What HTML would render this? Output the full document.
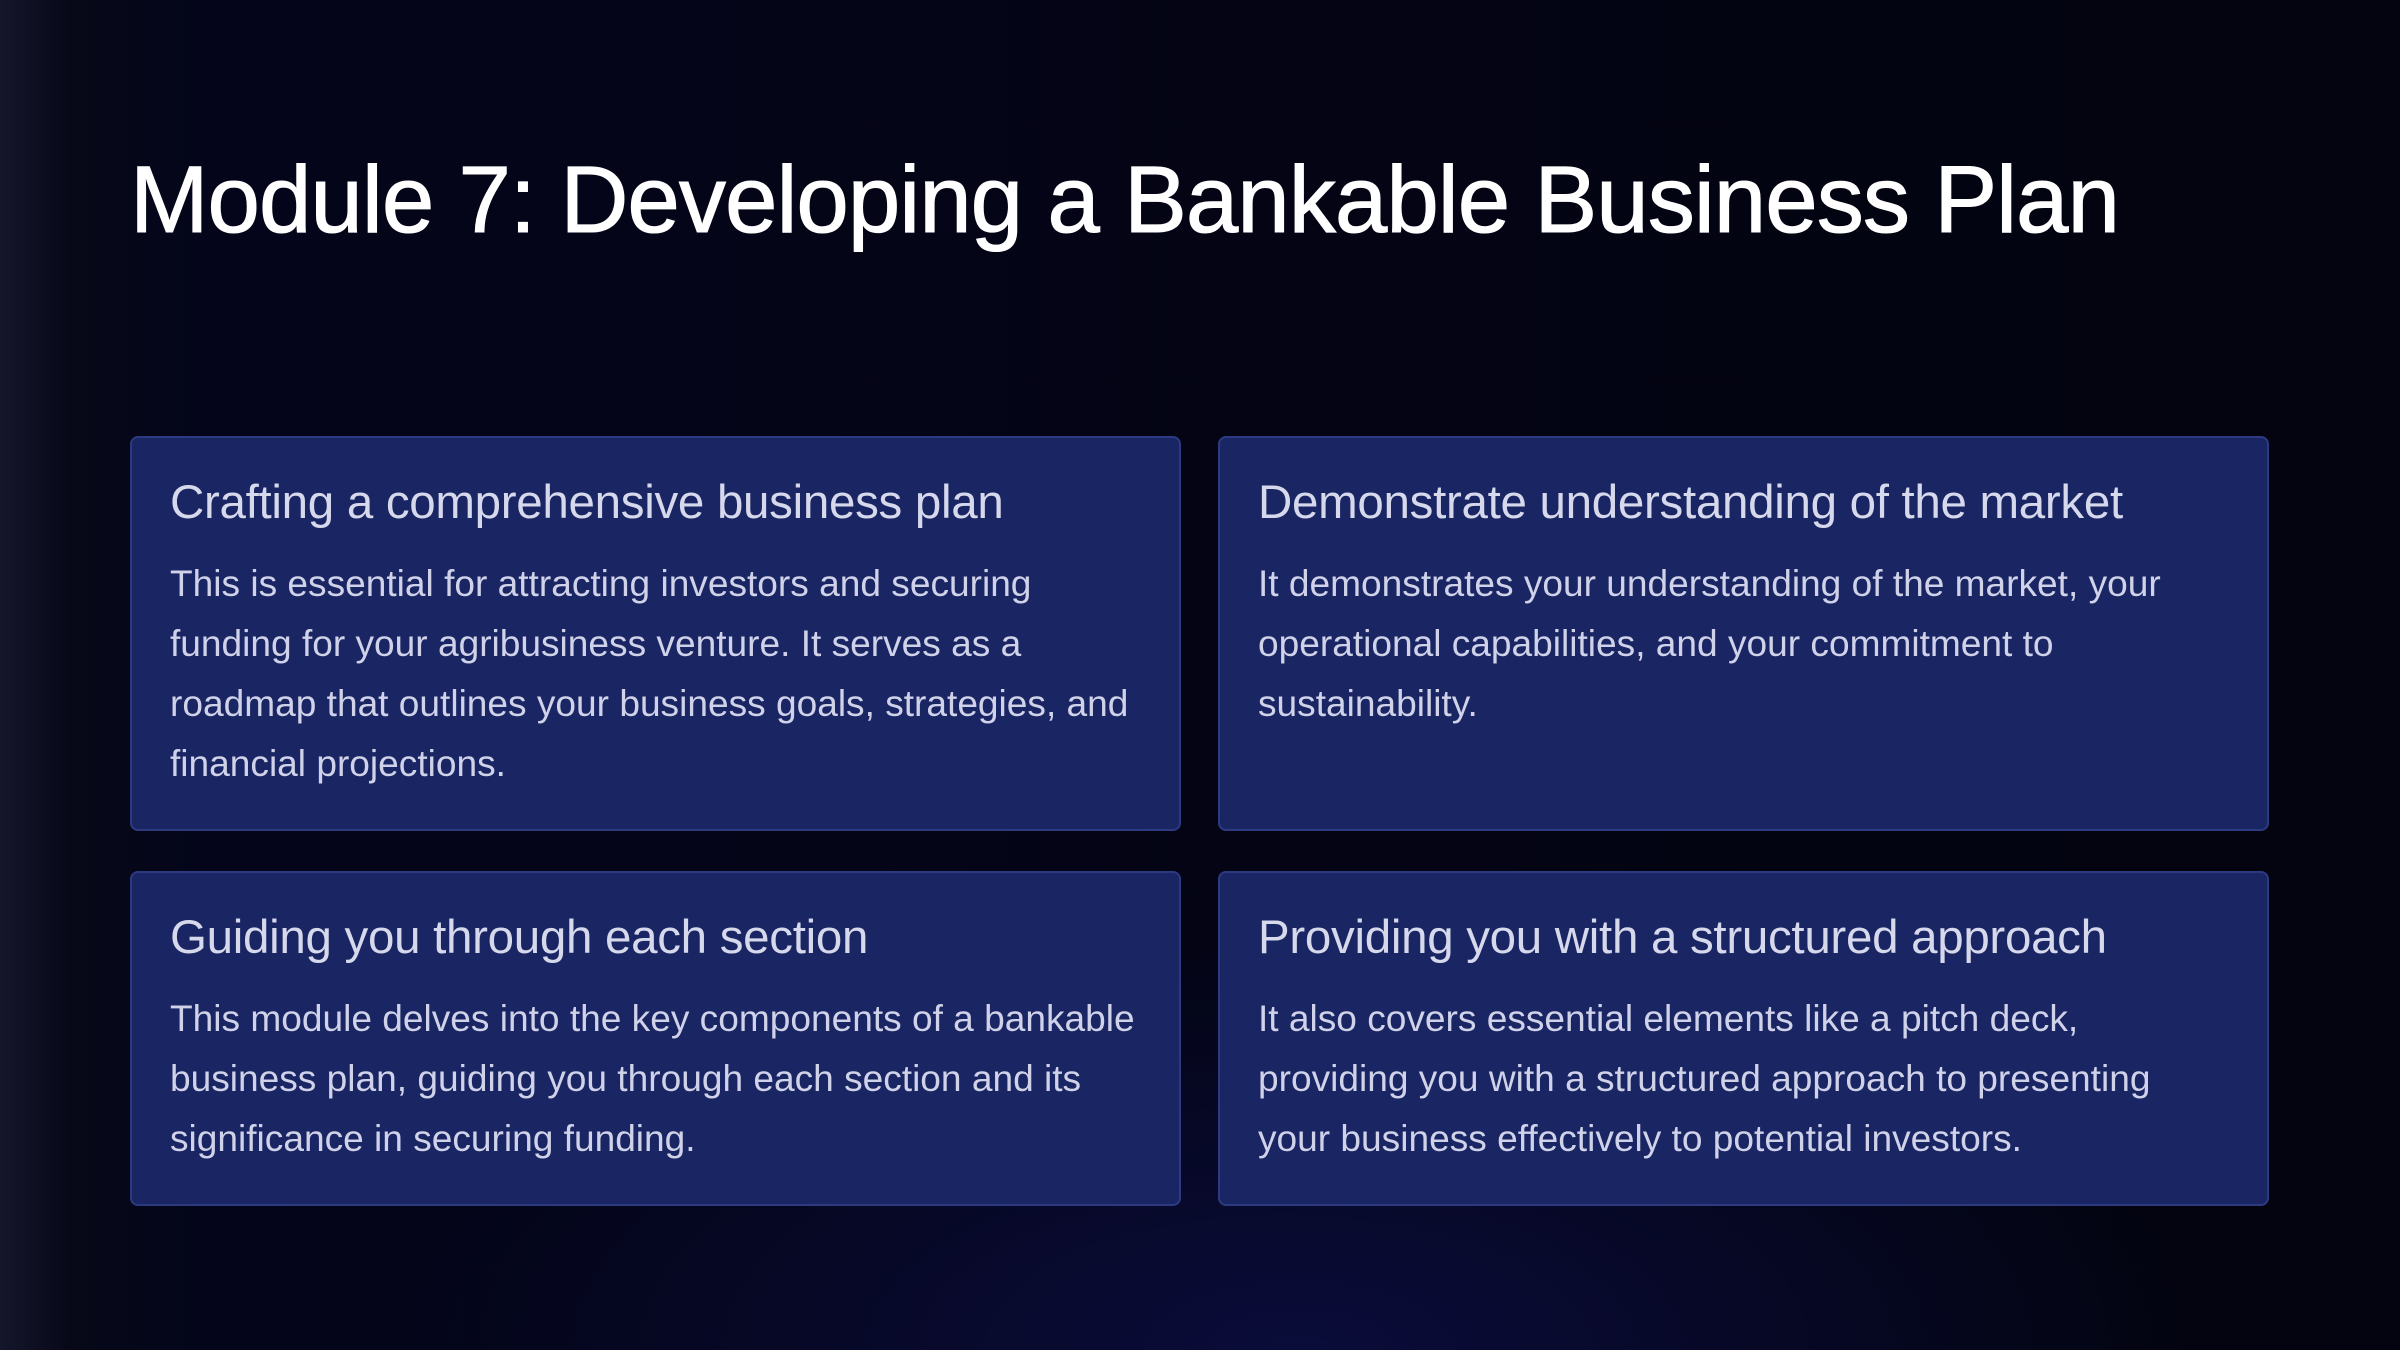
<!DOCTYPE html>
<html><head><meta charset="utf-8"><style>
html,body{margin:0;padding:0}
body{width:2400px;height:1350px;overflow:hidden;position:relative;font-family:"Liberation Sans",sans-serif;
background:radial-gradient(ellipse 900px 400px at 1300px 1350px,#0a0c3a 0%,rgba(5,6,26,0) 100%),linear-gradient(90deg,#15162b 0px,#070818 70px,#04051a 200px,#03040f 100%);}
h1{position:absolute;left:130px;top:140px;margin:0;font-size:94.3px;font-weight:400;color:#fff;letter-spacing:-1px;white-space:nowrap;line-height:120px;-webkit-text-stroke:1px #fff}
.card{position:absolute;box-sizing:border-box;background:#1a2563;border:2px solid #2e3a80;border-radius:8px;padding:0 38px;}
.card h2{margin:0;position:absolute;left:38px;top:37px;font-size:47.5px;font-weight:400;color:#d6d8ec;white-space:nowrap;letter-spacing:-0.3px}
.card p{margin:0;position:absolute;left:38px;top:115px;right:10px;font-size:37.1px;line-height:60px;color:#cfd2e8;white-space:nowrap}
</style></head><body>
<h1>Module 7: Developing a Bankable Business Plan</h1>
<div class="card" style="left:130px;top:436px;width:1051px;height:395px">
<h2>Crafting a comprehensive business plan</h2>
<p>This is essential for attracting investors and securing<br>funding for your agribusiness venture. It serves as a<br>roadmap that outlines your business goals, strategies, and<br>financial projections.</p></div>
<div class="card" style="left:1218px;top:436px;width:1051px;height:395px">
<h2>Demonstrate understanding of the market</h2>
<p>It demonstrates your understanding of the market, your<br>operational capabilities, and your commitment to<br>sustainability.</p></div>
<div class="card" style="left:130px;top:871px;width:1051px;height:335px">
<h2>Guiding you through each section</h2>
<p>This module delves into the key components of a bankable<br>business plan, guiding you through each section and its<br>significance in securing funding.</p></div>
<div class="card" style="left:1218px;top:871px;width:1051px;height:335px">
<h2>Providing you with a structured approach</h2>
<p>It also covers essential elements like a pitch deck,<br>providing you with a structured approach to presenting<br>your business effectively to potential investors.</p></div>
</body></html>
